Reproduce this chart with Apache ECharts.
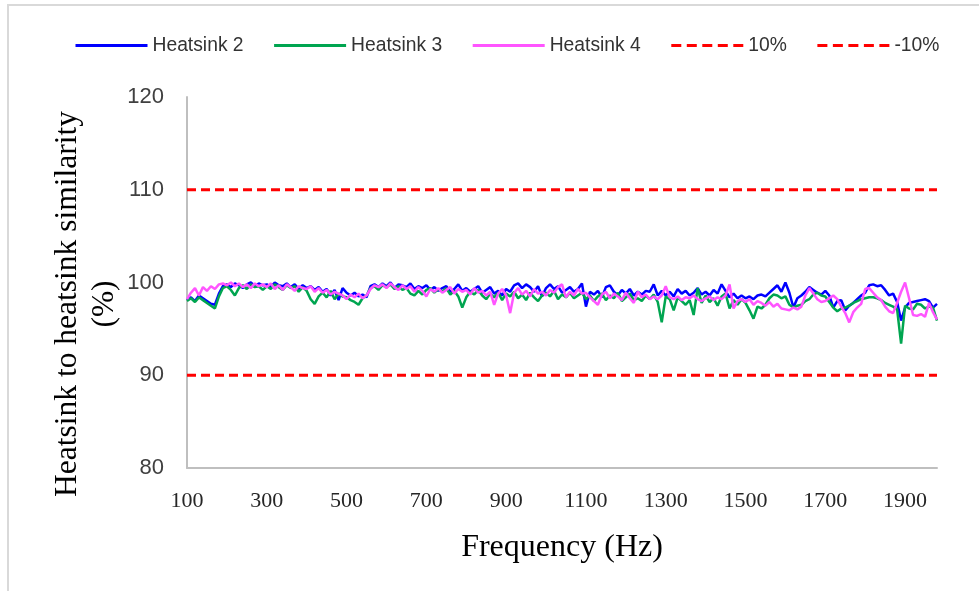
<!DOCTYPE html>
<html>
<head>
<meta charset="utf-8">
<script src="https://cdn.jsdelivr.net/npm/echarts@6/dist/echarts.min.js"></script>
<style>
  html, body { margin: 0; padding: 0; background: #ffffff; }
  #chart { width: 979px; height: 591px; }
</style>
</head>
<body>
<div id="chart"></div>
<script>
// Frequency sweep: 100 Hz to 1980 Hz, one sample every 10 Hz
const FREQ_START = 100;
const FREQ_STEP = 10;

// Similarity to the reference heatsink (%), one value per frequency sample
const heatsink2 = [
  98.1, 98.4, 98.0, 98.6, 98.3, 98.0, 97.7, 97.6, 98.8, 99.6,
  99.8, 99.5, 99.9, 99.7, 99.4, 99.8, 100.0, 99.6, 99.9, 99.7,
  99.8, 99.5, 100.0, 99.7, 99.6, 99.9, 99.5, 99.8, 99.3, 99.7,
  99.4, 99.6, 99.2, 99.5, 99.0, 99.3, 98.6, 99.2, 98.1, 99.4,
  98.9, 98.6, 98.9, 98.5, 98.7, 98.4, 99.6, 99.8, 99.5, 99.9,
  99.6, 100.0, 99.4, 99.8, 99.7, 99.5, 99.9, 99.3, 99.6, 99.4,
  99.7, 99.2, 99.5, 99.1, 99.4, 99.6, 99.0, 99.3, 99.8, 99.1,
  99.4, 99.0, 99.3, 99.6, 98.9, 99.2, 99.5, 98.8, 99.1, 98.6,
  99.3, 99.0, 99.7, 99.9, 99.4, 99.8, 99.5, 99.0, 99.6, 98.5,
  99.4, 99.8, 99.3, 99.6, 98.9, 99.2, 99.5, 99.0, 99.3, 99.9,
  97.4, 99.0, 98.7, 99.1, 98.4, 99.5, 99.7, 99.0, 98.6, 99.2,
  98.8, 99.3, 98.6, 99.0, 98.7, 99.1, 99.0, 99.8, 98.6, 99.1,
  98.6, 99.0, 98.5, 99.3, 98.8, 99.1, 98.6, 98.9, 99.4, 98.7,
  99.0, 98.6, 99.2, 98.8, 99.8, 99.1, 98.4, 98.8, 98.3, 98.6,
  98.3, 98.5, 98.2, 98.6, 98.7, 98.5, 98.9, 99.3, 99.7, 99.0,
  100.0, 98.9, 97.3, 98.3, 98.6, 99.0, 99.5, 99.2, 98.9, 98.7,
  99.1, 98.6, 97.3, 98.0, 98.1, 97.0, 97.5, 97.8, 98.2, 98.6,
  98.9, 99.7, 99.8, 99.6, 99.7, 99.2, 98.6, 98.8, 97.9, 95.9,
  97.3, 97.8, 97.9, 98.0, 98.1, 98.2, 98.0, 97.3, 97.7
];

const heatsink3 = [
  98.0, 98.3, 97.9, 98.4, 98.1, 97.8, 97.5, 97.2, 98.5, 99.4,
  99.6, 99.2, 98.6, 99.4, 99.7, 99.3, 99.8, 99.5, 99.6, 99.2,
  99.6, 99.3, 99.8, 99.5, 99.2, 99.7, 99.4, 99.6, 99.0, 99.5,
  99.1, 98.2, 97.7, 98.5, 98.9, 98.4, 99.1, 98.2, 98.8, 98.5,
  98.4, 98.1, 97.9, 97.6, 98.3, 98.6, 99.4, 99.6, 99.2, 99.7,
  99.5, 99.8, 99.3, 99.6, 99.2, 99.4, 98.8, 98.6, 99.1, 98.7,
  99.2, 99.4, 98.9, 99.3, 99.0, 99.4, 98.7, 99.1, 98.5, 97.3,
  98.4, 99.0, 98.7, 99.2, 98.6, 98.2, 98.8, 98.4, 98.9, 98.1,
  98.8, 98.5, 99.0, 98.3, 98.7, 98.1, 98.9, 98.4, 98.0, 98.6,
  98.9, 98.5, 99.1, 98.2, 98.7, 98.4, 98.9, 98.3, 98.6, 98.9,
  98.2, 98.6, 98.0, 98.5, 98.8, 98.1, 98.6, 98.3, 98.9, 98.0,
  98.4, 98.8, 98.1, 98.3, 98.0, 98.6, 98.2, 98.7, 97.9, 95.7,
  98.5, 98.2, 97.0, 98.4, 98.0, 97.6, 98.1, 96.5, 99.4, 97.8,
  98.6, 97.9, 98.3, 97.5, 98.5, 98.8, 97.2, 98.1, 97.6, 98.2,
  97.8, 97.0, 96.1, 97.4, 97.2, 97.6, 98.3, 98.7, 98.6, 98.3,
  98.5, 97.6, 97.3, 97.5, 97.6, 98.0, 98.2, 98.7, 98.9, 98.6,
  98.5, 97.9, 97.3, 96.9, 97.2, 97.3, 97.5, 97.8, 98.0, 98.2,
  98.3, 98.4, 98.4, 98.3, 98.1, 97.8, 97.6, 97.4, 97.1, 93.4,
  97.5, 97.2, 97.1, 97.7, 97.6, 97.2, 97.4, 97.3, 95.9
];

const heatsink4 = [
  98.2, 98.9, 99.4, 98.6, 99.5, 99.1, 99.6, 99.3, 99.8, 99.9,
  99.7, 100.0, 99.6, 99.9, 99.5, 99.8, 99.4, 99.9, 99.6, 99.8,
  99.5, 99.9, 99.3, 99.7, 99.2, 99.8, 99.5, 99.1, 99.6, 99.4,
  99.3, 99.6, 99.0, 99.4, 98.9, 99.2, 98.7, 99.0, 98.8, 98.6,
  98.2, 98.7, 98.4, 98.8, 98.3, 98.6, 99.3, 99.7, 99.5, 99.8,
  99.4, 99.9, 99.5, 99.2, 99.7, 99.3, 99.6, 99.0, 99.5, 99.1,
  98.5, 99.3, 99.0, 99.4, 98.9, 99.2, 99.5, 98.8, 99.3, 99.0,
  99.2, 98.7, 99.4, 98.9, 99.1, 98.6, 99.0, 97.6, 98.8, 99.3,
  98.6, 96.7, 98.9, 99.4, 98.7, 99.1, 98.5, 99.3, 98.8, 99.0,
  98.6, 99.2, 98.9, 99.5, 99.8, 98.4, 99.0, 98.6, 99.3, 98.8,
  98.9, 98.4, 98.0, 97.6, 98.7, 99.0, 98.3, 98.8, 98.5, 98.1,
  98.9, 98.3, 97.8, 99.0, 98.4, 98.7, 98.2, 98.5, 98.2, 98.6,
  99.6, 98.4, 98.2, 98.5, 98.1, 98.4, 98.3, 98.6, 98.2, 98.0,
  98.3, 98.5, 98.1, 98.4, 98.2, 98.6, 99.8, 97.2, 98.0, 98.2,
  97.9, 98.2, 97.6, 98.0, 97.8, 97.5, 97.9, 97.4, 97.7, 97.2,
  97.1, 97.0, 97.3, 97.1, 97.4, 98.6, 99.4, 98.8, 98.2, 97.9,
  98.0, 98.3, 98.6, 98.2, 97.4, 96.7, 95.7, 96.8, 97.3, 97.7,
  99.3, 99.4, 98.9, 98.4, 98.1, 97.4, 96.9, 96.7, 97.8, 99.0,
  100.0, 98.3, 96.5, 96.4, 96.6, 96.3, 97.8, 96.8, 96.0
];

// Tolerance band limits (%)
const upperLimit = 110;
const lowerLimit = 90;

// Axis tick labels
const freqTicks = [100, 300, 500, 700, 900, 1100, 1300, 1500, 1700, 1900];
const FREQ_MIN = 100;
const FREQ_MAX = 1980;

function withFreq(values) {
  return values.map((v, i) => [FREQ_START + i * FREQ_STEP, v]);
}

const chart = echarts.init(document.getElementById('chart'), null, { renderer: 'canvas' });

const lineSeries = (name, values, color) => ({
  name: name,
  type: 'line',
  data: withFreq(values),
  showSymbol: false,
  symbol: 'none',
  smooth: false,
  lineStyle: { color: color, width: 2.5 },
  itemStyle: { color: color },
  emphasis: { disabled: true }
});

const limitSeries = (name, level) => ({
  name: name,
  type: 'line',
  data: [[FREQ_MIN, level], [FREQ_MAX, level]],
  showSymbol: false,
  symbol: 'none',
  lineStyle: { color: '#ff0000', width: 3, type: [9, 5] },
  itemStyle: { color: '#ff0000' },
  emphasis: { disabled: true }
});

// Legend entries: solid lines for the heatsinks, evenly dashed for the limits
const legendDash = { width: 3, type: [10, 5.5] };

chart.setOption({
  animation: false,
  backgroundColor: '#ffffff',
  graphic: [
    {
      type: 'rect',
      shape: { x: 8, y: 5, width: 1200, height: 1000 },
      style: { fill: 'none', stroke: '#d9d9d9', lineWidth: 2 },
      silent: true
    },
    {
      type: 'text',
      x: 86,
      y: 304,
      rotation: Math.PI / 2,
      style: {
        text: 'Heatsink to heatsink similarity\n(%)',
        font: '31.5px "Liberation Serif", "Times New Roman", serif',
        fill: '#000000',
        align: 'center',
        verticalAlign: 'middle',
        lineHeight: 37
      },
      silent: true
    }
  ],
  legend: {
    left: 74,
    top: 36,
    padding: 0,
    itemWidth: 72,
    itemHeight: 14,
    itemGap: 29,
    itemStyle: { opacity: 0 },
    lineStyle: { width: 3 },
    textStyle: {
      fontFamily: '"Liberation Sans", Arial, sans-serif',
      fontSize: 19.3,
      color: '#333333'
    },
    data: [
      { name: 'Heatsink 2' },
      { name: 'Heatsink 3' },
      { name: 'Heatsink 4' },
      { name: '10%', lineStyle: legendDash },
      { name: '-10%', lineStyle: legendDash }
    ]
  },
  grid: {
    left: 187,
    right: 42,
    top: 97,
    bottom: 123,
    containLabel: false
  },
  xAxis: {
    type: 'value',
    min: FREQ_MIN,
    max: FREQ_MAX,
    name: 'Frequency (Hz)',
    nameLocation: 'middle',
    nameGap: 64,
    nameTextStyle: {
      fontFamily: '"Liberation Serif", "Times New Roman", serif',
      fontSize: 32,
      color: '#000000'
    },
    axisLine: { show: true, lineStyle: { color: '#bfbfbf', width: 2 } },
    axisTick: { show: false },
    splitLine: { show: false },
    axisLabel: {
      customValues: freqTicks,
      formatter: (v) => String(v),
      margin: 22,
      fontFamily: '"Liberation Serif", "Times New Roman", serif',
      fontSize: 22,
      color: '#262626'
    }
  },
  yAxis: {
    type: 'value',
    min: 80,
    max: 120,
    interval: 10,
    axisLine: { show: true, lineStyle: { color: '#bfbfbf', width: 2 } },
    axisTick: { show: false },
    splitLine: { show: false },
    axisLabel: {
      margin: 23,
      fontFamily: '"Liberation Sans", Arial, sans-serif',
      fontSize: 22,
      color: '#404040'
    }
  },
  series: [
    lineSeries('Heatsink 2', heatsink2, '#0000ff'),
    lineSeries('Heatsink 3', heatsink3, '#00a550'),
    lineSeries('Heatsink 4', heatsink4, '#ff55ff'),
    limitSeries('10%', upperLimit),
    limitSeries('-10%', lowerLimit)
  ]
});
</script>
</body>
</html>
